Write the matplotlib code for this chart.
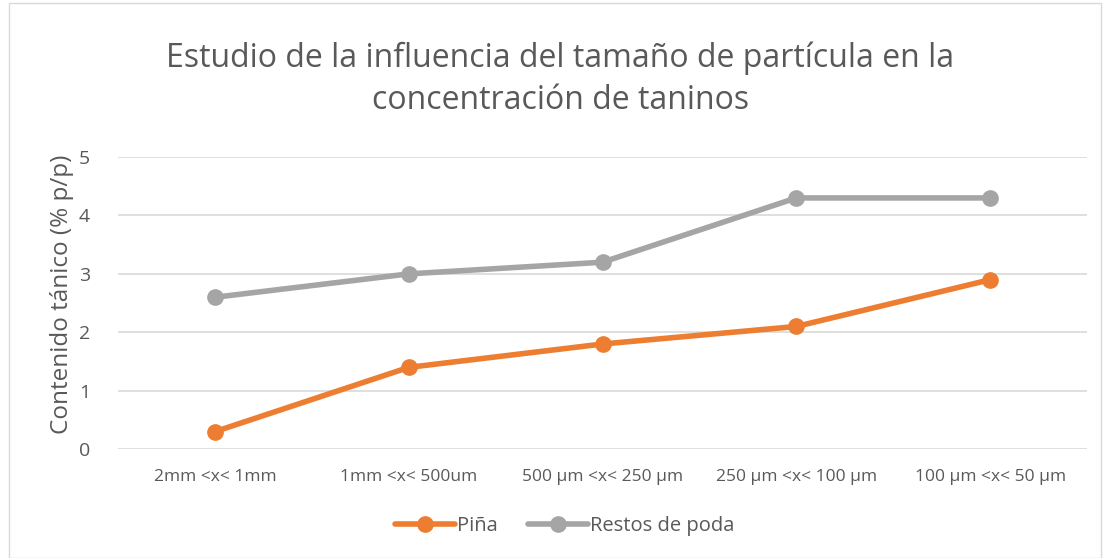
import matplotlib.pyplot as plt
from matplotlib.patches import Rectangle

categories = ["2mm <x< 1mm", "1mm <x< 500um", "500 µm <x< 250 µm",
              "250 µm <x< 100 µm", "100 µm <x< 50 µm"]
pina = [0.3, 1.4, 1.8, 2.1, 2.9]
restos = [2.6, 3.0, 3.2, 4.3, 4.3]

plt.rcParams['font.family'] = ['Open Sans', 'DejaVu Sans']
text_col = "#595959"

fig = plt.figure(figsize=(11.03, 5.58), dpi=100)
ax = fig.add_axes([0.107, 0.195, 0.8785, 0.5236])

x = range(len(categories))
ax.plot(x, pina, color="#ED7D31", lw=4, marker="o", ms=11, label="Piña",
        solid_capstyle="round", zorder=3)
ax.plot(x, restos, color="#A5A5A5", lw=4, marker="o", ms=11, label="Restos de poda",
        solid_capstyle="round", zorder=3)

ax.set_xlim(-0.5, len(categories) - 0.5)
ax.set_ylim(0, 5)
ax.set_yticks(range(6))
ax.set_xticks(list(x))
ax.set_xticklabels(categories)
ax.tick_params(axis="x", length=0, labelsize=12.5, colors=text_col, pad=14)
ax.tick_params(axis="y", length=0, labelsize=14, colors=text_col, pad=20)
ax.grid(axis="y", color="#D9D9D9", lw=1.2)
ax.set_axisbelow(True)
for s in ax.spines.values():
    s.set_visible(False)

ax.set_ylabel("Contenido tánico (% p/p)", fontsize=17.5, color=text_col)
ax.yaxis.set_label_coords(-0.045, 0.53)

fig.text(0.508, 0.79, "Estudio de la influencia del tamaño de partícula en la\nconcentración de taninos",
         ha="center", va="bottom", fontsize=23, color=text_col, linespacing=1.35)

fig.legend(loc="center", bbox_to_anchor=(0.512, 0.057), ncol=2, frameon=False,
           fontsize=14.5, labelcolor=text_col, handlelength=3, columnspacing=1.5,
           handletextpad=0.1)

fig.patches.append(Rectangle((0.008, 0.0), 0.99, 0.995, transform=fig.transFigure,
                             fill=False, edgecolor="#D9D9D9", lw=1))

fig.savefig("out.png", dpi=100)
